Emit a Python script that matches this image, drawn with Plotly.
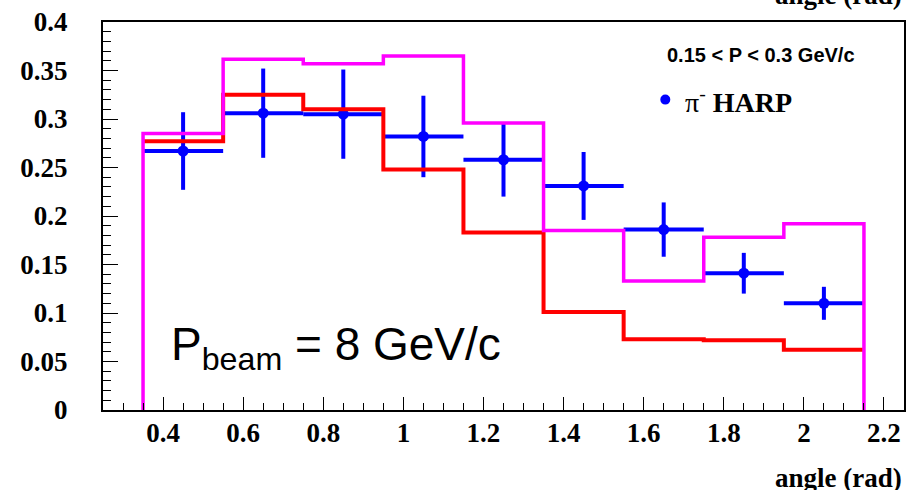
import plotly.graph_objects as go

# ---- data ----
bin_edges = [0.35, 0.55, 0.75, 0.95, 1.15, 1.35, 1.55, 1.75, 1.95, 2.15]
harp_x = [0.45, 0.65, 0.85, 1.05, 1.25, 1.45, 1.65, 1.85, 2.05]
harp_y = [0.267, 0.306, 0.305, 0.282, 0.258, 0.231, 0.186, 0.141, 0.110]
harp_yerr = [0.040, 0.046, 0.046, 0.042, 0.038, 0.035, 0.028, 0.021, 0.017]
harp_xerr = [0.1, 0.1, 0.1, 0.1, 0.1, 0.1, 0.1, 0.1, 0.1]
model_red = [0.277, 0.325, 0.310, 0.248, 0.183, 0.101, 0.073, 0.072, 0.062]
model_magenta = [0.285, 0.3615, 0.357, 0.365, 0.296, 0.185, 0.133, 0.178, 0.192]

x_tickvals = [0.4, 0.6, 0.8, 1.0, 1.2, 1.4, 1.6, 1.8, 2.0, 2.2]
x_ticktext = ["0.4", "0.6", "0.8", "1", "1.2", "1.4", "1.6", "1.8", "2", "2.2"]
y_tickvals = [0, 0.05, 0.1, 0.15, 0.2, 0.25, 0.3, 0.35, 0.4]
y_ticktext = ["0", "0.05", "0.1", "0.15", "0.2", "0.25", "0.3", "0.35", "0.4"]


def step_xy(edges, vals, drop=True):
    if drop:
        xs = [edges[0]] + edges[:-1] + [edges[-1], edges[-1]]
        ys = [0] + vals + [vals[-1], 0]
    else:
        xs = edges[:-1] + [edges[-1]]
        ys = vals + [vals[-1]]
    return xs, ys


fig = go.Figure()

fig.add_trace(go.Scatter(
    x=harp_x, y=harp_y, mode="markers",
    marker=dict(color="#0000FF", size=11, symbol="circle"),
    error_y=dict(type="data", array=harp_yerr, color="#0000FF", thickness=4, width=0),
    error_x=dict(type="data", array=harp_xerr, color="#0000FF", thickness=4, width=0),
    showlegend=False,
))

rx, ry = step_xy(bin_edges, model_red, drop=False)
fig.add_trace(go.Scatter(x=rx, y=ry, mode="lines", line=dict(color="#FF0000", width=4, shape="hv"),
                         showlegend=False))
mx, my = step_xy(bin_edges, model_magenta, drop=True)
fig.add_trace(go.Scatter(x=mx, y=my, mode="lines", line=dict(color="#FF00FF", width=3.5, shape="hv"),
                         showlegend=False))

tickfont = dict(family="Liberation Serif", size=27, color="black", weight="bold")

fig.update_layout(
    width=908, height=490,
    margin=dict(l=103, r=2, t=22, b=80),
    paper_bgcolor="white", plot_bgcolor="white",
    xaxis=dict(
        range=[0.25, 2.25], showgrid=False, zeroline=False,
        showline=True, linecolor="black", linewidth=2, mirror=True,
        ticks="inside", ticklen=13, tickwidth=1.3, tickcolor="black",
        tickvals=x_tickvals, ticktext=x_ticktext, tickfont=tickfont,
        ticklabelstandoff=-2,
        minor=dict(ticks="inside", dtick=0.05, tick0=0, ticklen=7, tickwidth=1.3, tickcolor="black"),
    ),
    yaxis=dict(
        range=[0, 0.4], showgrid=False, zeroline=False,
        showline=True, linecolor="black", linewidth=2, mirror=True,
        ticks="inside", ticklen=15, tickwidth=1.3, tickcolor="black",
        tickvals=y_tickvals, ticktext=y_ticktext, tickfont=tickfont,
        ticklabelstandoff=28,
        minor=dict(ticks="inside", dtick=0.01, tick0=0, ticklen=8, tickwidth=1.3, tickcolor="black"),
    ),
)

axfont = dict(family="Liberation Serif", size=27, color="black", weight="bold")
# axis title bottom-right and clipped duplicate at top-right
fig.add_annotation(text="angle (rad)", xref="paper", yref="paper", x=1.0, y=-0.175,
                   xanchor="right", yanchor="middle", showarrow=False, font=axfont)
fig.add_annotation(text="angle (rad)", xref="paper", yref="paper", x=1.0, y=1.025,
                   xanchor="right", yanchor="bottom", showarrow=False, font=axfont)

# legend
fig.add_annotation(text="0.15 &lt; P &lt; 0.3 GeV/c", xref="paper", yref="paper", x=0.821, y=0.916,
                   xanchor="center", yanchor="middle", showarrow=False,
                   font=dict(family="Liberation Sans", size=20, color="black", weight="bold"))
fig.add_annotation(text="π<sup>-</sup> <b>HARP</b>", xref="paper", yref="paper", x=0.724, y=0.798,
                   xanchor="left", yanchor="middle", showarrow=False,
                   font=dict(family="Liberation Serif", size=28, color="black"))
fig.add_shape(type="circle", xref="paper", yref="paper", xsizemode="pixel", ysizemode="pixel",
              xanchor=0.702, yanchor=0.80, x0=-5, x1=5, y0=-5, y1=5,
              fillcolor="#0000FF", line=dict(color="#0000FF", width=0))

# beam label
fig.add_annotation(text="P<sub>beam</sub> = 8 GeV/c", xref="paper", yref="paper", x=0.083, y=0.16,
                   xanchor="left", yanchor="middle", showarrow=False,
                   font=dict(family="Liberation Sans", size=46, color="black"))

fig.write_html("out.html", config={"displayModeBar": False},
               post_script="document.body.style.margin='0';document.body.style.padding='0';")
